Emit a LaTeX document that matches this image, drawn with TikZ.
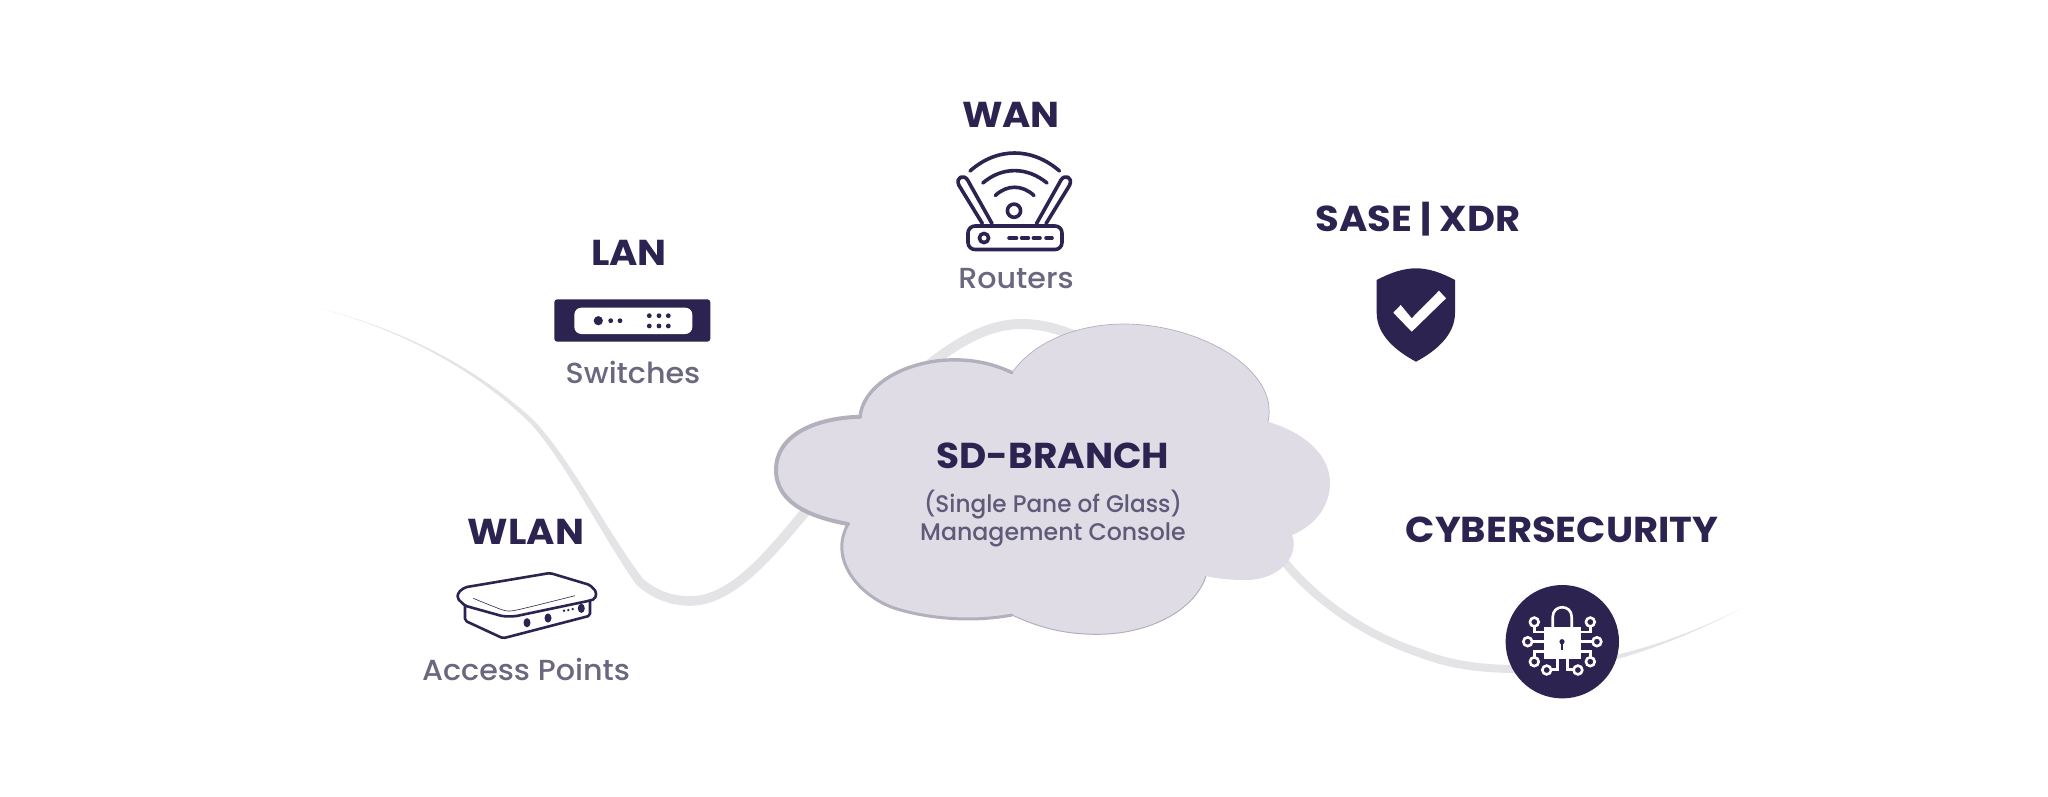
\documentclass[tikz,border=0pt]{standalone}
\usepackage{fontspec}
\setmainfont{Poppins}
\newfontfamily\headfont{Poppins}[FakeStretch=1.07]
\newfontfamily\branchfont{Poppins}[FakeStretch=1.04]
\newfontfamily\subfont{Poppins Medium}[FakeStretch=1.04]
\newfontfamily\consolefont{Poppins Medium}[FakeStretch=.985]
\newfontfamily\panefont{Poppins Medium}[FakeStretch=.965]
\usepackage{xcolor}
\usetikzlibrary{positioning}
\definecolor{navy}{HTML}{2D2350}
\definecolor{slate}{HTML}{6A677E}
\definecolor{consoletxt}{HTML}{5E5A78}
\definecolor{cloudfill}{HTML}{DFDCE6}
\definecolor{cloudedge}{HTML}{B3B0BE}
\definecolor{wire}{HTML}{E4E4E7}
\tikzset{
  head/.style={text=navy,font=\headfont\fontsize{36}{36}\selectfont\bfseries,inner sep=0pt},
  sub/.style={text=slate,font=\subfont\fontsize{29}{29}\selectfont,inner sep=0pt},
  consoleline/.style={text=consoletxt,font=\consolefont\fontsize{24}{24}\selectfont,inner sep=0pt},
  paneline/.style={text=consoletxt,font=\panefont\fontsize{24}{24}\selectfont,inner sep=0pt},
  iconline/.style={draw=navy,line width=3.6pt,line cap=round,line join=round},
  apline/.style={draw=navy,line width=2.6pt,line cap=round,line join=round,rounded corners=2pt},
  chipline/.style={draw=white,line width=2.6pt},
  rim/.style={draw=cloudedge,line join=round,line cap=round},
}
\newcommand{\lobetopleft}{.. controls (865,370) and (950,342) .. (1012,372.7)}
\newcommand{\lobebig}{.. controls (1035,340) and (1080,324) .. (1124,324) .. controls (1200,324) and (1280,370) .. (1268,421.7)}
\newcommand{\loberight}{.. controls (1305,433) and (1330,455) .. (1330,483) .. controls (1330,510) and (1310,528) .. (1292,535)}
\newcommand{\lobesmall}{.. controls (1300,555) and (1280,580) .. (1246,580) .. controls (1232,580) and (1218,579) .. (1206,576)}
\newcommand{\lobebottom}{.. controls (1195,610) and (1150,634.3) .. (1097,634.3) .. controls (1065,634.3) and (1040,628) .. (1012,615)}
\newcommand{\lobelower}{.. controls (970,623) and (925,618) .. (894,608) .. controls (860,596) and (828,560) .. (848,524)}
\newcommand{\lobeleft}{.. controls (815,518) and (776,505) .. (776,470) .. controls (776,435) and (815,418) .. (860,416.7)}
\begin{document}
\begin{tikzpicture}[x=1pt,y=-1pt]
\useasboundingbox (0,0) rectangle (2048,796);
% wires behind the cloud
\coordinate (wlanfree) at (323,309);
\coordinate (secfree) at (1742,608);
\fill[wire] (wlanfree) .. controls (400,329.5) and (471,364) .. (528.5,415.4)
  .. controls (564,447) and (611,538) .. (643.2,578.9)
  .. controls (657,590.5) and (672,596.2) .. (690,596.2)
  .. controls (733,596.2) and (771.5,544.5) .. (811,497)
  -- (819,503) .. controls (778.5,551.5) and (737,605.8) .. (690,605.8)
  .. controls (672,605.8) and (653,599.5) .. (636.8,585.1)
  .. controls (605,542) and (560,451) .. (525.5,418.6)
  .. controls (469,366) and (400,330.5) .. (wlanfree) -- cycle;
\fill[wire] (1286,557) .. controls (1318,597) and (1367,631.5) .. (1421.4,649)
  .. controls (1456,663) and (1490,665) .. (1520,665)
  -- (1520,673) .. controls (1490,673) and (1454,671) .. (1418.6,657)
  .. controls (1363,638.5) and (1312,603) .. (1280,563) -- cycle;
\fill[wire] (1599.5,658.5) .. controls (1649.5,648.8) and (1699.7,629.5) .. (secfree)
  .. controls (1700.3,630.5) and (1650.5,651.2) .. (1600.5,663.5) -- cycle;
\draw[wire,line width=10pt] (905,385) .. controls (950,345) and (985,324) .. (1022,324) .. controls (1050,324) and (1075,335) .. (1095,345);
% cloud
\fill[cloudfill] (860,416.7) \lobetopleft \lobebig \loberight \lobesmall \lobebottom \lobelower \lobeleft -- cycle;
\draw[rim,line width=4pt] (848,524) \lobeleft;
\draw[rim,line width=3.4pt] (860,416.7) \lobetopleft;
\draw[rim,line width=3pt] (1012,615) \lobelower;
\draw[rim,line width=1pt] (1206,576) \lobebottom;
\draw[rim,line width=.7pt] (1012,372.7) \lobebig;
\node[head,font=\branchfont\fontsize{36}{36}\selectfont\bfseries] (branch) at (1053,456) {SD-BRANCH};
\node[paneline] (pane) at (1053,505) {(Single Pane of Glass)};
\node[consoleline] (console) at (1053,535) {Management Console};
% WAN
\node[head] (wan) at (1011,115) {WAN};
\node[sub] (routers) at (1016,279) {Routers};
\draw[iconline,rounded corners=7pt] (968,226) rectangle (1062,249.5);
\draw[iconline] (984,238) circle (4.6);
\foreach \a/\b in {1009/1016.5,1021.6/1028.4,1033.4/1040,1046/1052}
  \draw[iconline] (\a,238) -- (\b,238);
\draw[iconline] (982.4,223.6) -- (959,185.4) .. controls (955,177) and (964,174) .. (967.6,180) -- (992,223.6);
\draw[iconline] (1046,223.6) -- (1069.5,185.4) .. controls (1073.5,177) and (1064.5,174) .. (1061,180) -- (1036.5,223.6);
\draw[iconline] (1014,210.7) circle (6.6);
\draw[iconline] (995.3,195.5) .. controls (1007,184.5) and (1022,184.5) .. (1034,195.5);
\draw[iconline] (982.8,183) .. controls (1002,166.5) and (1027,166.5) .. (1047,183);
\draw[iconline] (970,171) .. controls (997,147) and (1032,147) .. (1059.5,171);
% LAN
\node[head] (lan) at (629,253) {LAN};
\node[sub] (switches) at (633,372) {Switches};
\fill[navy,rounded corners=3pt] (554.3,299.3) rectangle (710.3,341.7);
\fill[white,rounded corners=7pt] (574.3,307.7) rectangle (692.3,334);
\fill[navy] (598.3,320.7) circle (4.6) (610.7,320.7) circle (2.4) (620,320.7) circle (2.4);
\foreach \a in {649.3,659,668.3}
  \foreach \b in {315.7,326}
    \fill[navy] (\a,\b) circle (2.4);
% WLAN
\node[head] (wlan) at (526,531.5) {WLAN};
\node[sub] (access) at (526,669) {Access Points};
\begin{scope}[yshift=1pt]
\draw[apline] (465,588.3) -- (550,574) -- (590,586) -- (596.5,593) -- (595,600) -- (588,602) -- (515,617.3) -- (503,617.3) -- (465,606.7) -- (457.3,599.3) -- (458.3,593.3) -- cycle;
\draw[apline] (465,606.7) -- (465,621.7) -- (503,639.3) -- (590,616.7) -- (590,602);
\draw[navy,line width=.6pt] plot[smooth,tension=.4] coordinates {(473.3,599.3) (503,611) (516.7,611) (575,596.7)};
\fill[navy] (527,623.7) ellipse (3.5 and 4.6) (548,619) ellipse (3.5 and 4.6) (581.3,609.3) ellipse (3.5 and 4.6);
\fill[navy] (564,611.7) circle (1.3) (568.3,611) circle (1.3) (572.7,610) circle (1.3);
\end{scope}
% SASE
\node[head] (sase) at (1418,219) {SASE | XDR};
\fill[navy] (1376.7,280) .. controls (1390,273) and (1403,268.3) .. (1416,268.3) .. controls (1429,268.3) and (1442,273) .. (1455,280) -- (1455,313) .. controls (1455,335) and (1436,351) .. (1416,361.7) .. controls (1396,351) and (1376.7,335) .. (1376.7,313) -- cycle;
\fill[white] (1393.3,312.7) -- (1411.7,331.7) -- (1446,298.3) -- (1439,290.7) -- (1411.7,318.3) -- (1400.7,305) -- cycle;
% cybersecurity
\node[head] (cyber) at (1562,530) {CYBERSECURITY};
\fill[navy] (1562.3,641.7) circle (56.7);
\fill[white] (1544,627.3) rectangle (1580.7,659.3);
\draw[chipline] (1552.7,627.3) -- (1552.7,617) .. controls (1552.7,604) and (1571.7,604) .. (1571.7,617) -- (1571.7,627.3);
\fill[navy] (1562,641.7) circle (2.6);
\draw[navy,line width=1.6pt] (1562,641.7) -- (1562,650);
\foreach \s in {1,-1}{
  \begin{scope}[shift={(1562.3,641.7)},xscale=\s]
    \draw[chipline] (-28,-19.7) circle (4.4) (-34.6,0) circle (4.4) (-28,20) circle (4.4) (-15.6,28.3) circle (4.4);
    \draw[chipline] (-28,-15.3) -- (-28,-9.7) -- (-18,-9.7);
    \draw[chipline] (-30.2,0) -- (-18,0);
    \draw[chipline] (-28,15.6) -- (-28,9.7) -- (-18,9.7);
    \draw[chipline] (-11.2,28) -- (-5,28) -- (-5,17);
  \end{scope}
}
\end{tikzpicture}
\end{document}
